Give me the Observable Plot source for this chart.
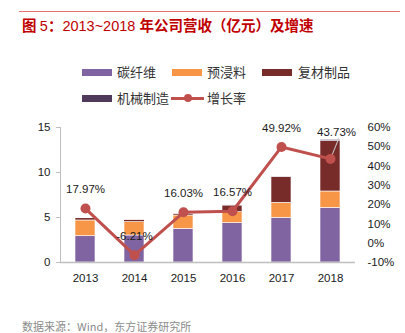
<!DOCTYPE html>
<html><head><meta charset="utf-8">
<script src="https://cdn.jsdelivr.net/npm/d3@7"></script>
<script src="https://cdn.jsdelivr.net/npm/@observablehq/plot@0.6"></script>
<style>
body{margin:0;background:#fff;}
#wrap{position:relative;width:405px;height:333px;overflow:hidden;background:#fff;font-family:"Liberation Sans","Noto Sans CJK SC",sans-serif;}
#topline{position:absolute;left:19px;top:10.5px;width:381px;height:1px;background:#E57373;}
#title{position:absolute;left:22px;top:16px;height:18px;line-height:18px;font-size:14.5px;color:#C00000;white-space:nowrap;font-family:"Noto Sans CJK SC",sans-serif;font-weight:bold;}
#title .lat{font-family:"Liberation Sans",sans-serif;font-weight:normal;}
.lg{position:absolute;height:16px;line-height:16px;font-size:13px;color:#333;font-family:"Noto Sans CJK SC",sans-serif;white-space:nowrap;}
.sw{position:absolute;height:7px;}
#chart{position:absolute;left:0;top:110px;}
#chart text{fill:#1a1a1a;}
#footer{position:absolute;left:22px;top:319px;height:14px;line-height:14px;font-size:11px;color:#8c8c8c;font-family:"Noto Sans CJK SC",sans-serif;white-space:nowrap;}
</style></head><body>
<div id="wrap">
  <div id="topline"></div>
  <div id="title">图 <span class="lat">5</span>：<span class="lat">2013~2018 </span>年公司营收（亿元）及增速</div>
  <div id="legend"></div>
  <div id="chart"></div>
  <div id="footer">数据来源：Wind，东方证券研究所</div>
</div>
<script>
const years = ["2013","2014","2015","2016","2017","2018"];
const seriesNames = ["碳纤维","预浸料","复材制品","机械制造"];
const carbonFiber = [2.92, 3.00, 3.74, 4.37, 4.97, 6.07];
const prepreg     = [1.75, 1.48, 1.48, 1.22, 1.66, 1.82];
const composites  = [0.25, 0.22, 0.15, 0.74, 2.85, 5.59];
const machinery   = [0.05, 0.00, 0.03, 0.05, 0.03, 0.15];
const growthRate  = [17.97, -6.21, 16.03, 16.57, 49.92, 43.73];
const lineName = "增长率";
const leftTicks = [0, 5, 10, 15];
const rightTicks = [-10, 0, 10, 20, 30, 40, 50, 60];
const colors = ["#8064A2", "#F79646", "#772C2A", "#4F3A5B"];
const lineColor = "#C0504D";

const seriesValues = [carbonFiber, prepreg, composites, machinery];
const table = [];
seriesNames.forEach((s, i) => years.forEach((y, j) => table.push({year: y, series: s, value: seriesValues[i][j]})));
const rMin = -10, rMax = 60, yMax = 15;
const toLeft = p => (p - rMin) / (rMax - rMin) * yMax;
const growth = years.map((y, j) => ({year: y, rate: growthRate[j], v: toLeft(growthRate[j])}));
const fmt = d => d.rate.toFixed(2) + "%";

// legend
const legend = document.getElementById("legend");
const items = [
  {name: seriesNames[0], color: colors[0], x: 82, y: 72, tx: 117},
  {name: seriesNames[1], color: colors[1], x: 172, y: 72, tx: 207},
  {name: seriesNames[2], color: colors[2], x: 262, y: 72, tx: 298},
  {name: seriesNames[3], color: colors[3], x: 82, y: 98, tx: 117},
  {name: lineName, color: lineColor, x: 171, y: 98, tx: 207, line: true}
];
items.forEach(it => {
  if (it.line) {
    const l = document.createElement("div");
    l.className = "sw";
    l.style.cssText = `left:${it.x}px;top:${it.y - 1.5}px;width:33px;height:3px;background:${it.color};`;
    legend.appendChild(l);
    const d = document.createElement("div");
    d.style.cssText = `position:absolute;left:${it.x + 12.5}px;top:${it.y - 4}px;width:8px;height:8px;border-radius:50%;background:${it.color};`;
    legend.appendChild(d);
  } else {
    const s = document.createElement("div");
    s.className = "sw";
    s.style.cssText = `left:${it.x}px;top:${it.y - 3.5}px;width:30px;background:${it.color};`;
    legend.appendChild(s);
  }
  const t = document.createElement("div");
  t.className = "lg";
  t.style.left = it.tx + "px";
  t.style.top = (it.y - 8) + "px";
  t.textContent = it.name;
  legend.appendChild(t);
});

const leaderShape = {draw(context, l) { context.moveTo(0, 0); context.lineTo(0, -l); }};

const chart = Plot.plot({
  width: 405, height: 180,
  marginTop: 17, marginBottom: 28, marginLeft: 60, marginRight: 50,
  style: {fontFamily: "Liberation Sans, sans-serif", fontSize: "11.5px", color: "#bfbfbf", background: "transparent"},
  x: {domain: years, paddingInner: 0.59, paddingOuter: 0.295, label: null, tickSize: 0, tickPadding: 11},
  y: {domain: [0, yMax], ticks: leftTicks, tickSize: 4, tickPadding: 6, label: null, line: true},
  color: {domain: seriesNames, range: colors},
  marks: [
    Plot.barY(table, {x: "year", y: "value", fill: "series", order: seriesNames, stroke: "#ffffff", strokeWidth: 0.6}),
    Plot.ruleY([0], {stroke: "#bfbfbf", strokeWidth: 1.5}),
    Plot.text(rightTicks, {y: toLeft, text: d => d + "%", frameAnchor: "right", textAnchor: "start", dx: 12}),
    Plot.line(growth, {x: "year", y: "v", stroke: lineColor, strokeWidth: 3}),
    Plot.vector(growth.filter(d => d.year === "2018"), {x: "year", y: "v", length: 22, rotate: 22, anchor: "start", stroke: "#c8c8c8", strokeWidth: 1, shape: leaderShape}),
    Plot.dot(growth, {x: "year", y: "v", r: 5, fill: lineColor}),
    Plot.text(growth.filter(d => d.year !== "2018"), {x: "year", y: "v", text: fmt, dy: -19}),
    Plot.text(growth.filter(d => d.year === "2018"), {x: "year", y: "v", text: fmt, dy: -27, dx: 6})
  ]
});
document.getElementById("chart").appendChild(chart);
</script>
</body></html>
